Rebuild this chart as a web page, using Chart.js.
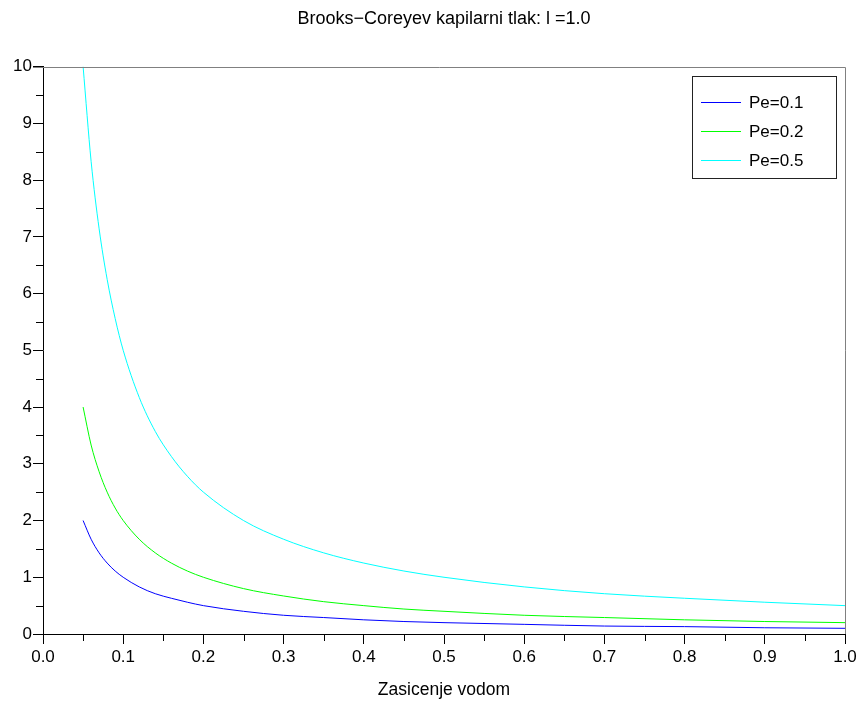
<!DOCTYPE html>
<html>
<head>
<meta charset="utf-8">
<title>Brooks-Corey</title>
<script src="https://cdn.jsdelivr.net/npm/chart.js@4.4.1/dist/chart.umd.min.js"></script>
<style>
  html, body { margin: 0; padding: 0; background: #fff; }
  #wrap { width: 861px; height: 701px; }
</style>
</head>
<body>
<div id="wrap"><canvas id="bcChart" width="861" height="701"></canvas></div>
<script>
// saturation values (x) and capillary pressure for each Pe
const satValues = [0.05, 0.06, 0.07, 0.08, 0.09, 0.10, 0.12, 0.14, 0.16, 0.18, 0.20,
                   0.25, 0.30, 0.35, 0.40, 0.45, 0.50, 0.60, 0.70, 0.80, 0.90, 1.00];
const pcPe01 = [2.00, 1.67, 1.43, 1.25, 1.11, 1.00, 0.83, 0.71, 0.63, 0.56, 0.50,
                0.40, 0.33, 0.29, 0.25, 0.22, 0.20, 0.17, 0.14, 0.13, 0.11, 0.10];
const pcPe02 = [4.00, 3.33, 2.86, 2.50, 2.22, 2.00, 1.67, 1.43, 1.25, 1.11, 1.00,
                0.80, 0.67, 0.57, 0.50, 0.44, 0.40, 0.33, 0.29, 0.25, 0.22, 0.20];
const pcPe05 = [10.0, 8.33, 7.14, 6.25, 5.56, 5.00, 4.17, 3.57, 3.13, 2.78, 2.50,
                2.00, 1.67, 1.43, 1.25, 1.11, 1.00, 0.83, 0.71, 0.63, 0.56, 0.50];
const seriesLabels = ["Pe=0.1", "Pe=0.2", "Pe=0.5"];
const seriesColors = ["#0000ff", "#00ff00", "#00ffff"];
const xMinorTicks = [0.05, 0.15, 0.25, 0.35, 0.45, 0.55, 0.65, 0.75, 0.85, 0.95];
const yMinorTicks = [0.5, 1.5, 2.5, 3.5, 4.5, 5.5, 6.5, 7.5, 8.5, 9.5];

const FONT = "'Liberation Sans', Arial, Helvetica, sans-serif";
Chart.defaults.color = "#000";
Chart.defaults.font.family = FONT;

function toPoints(ys) {
    return satValues.map((x, i) => ({ x: x, y: ys[i] }));
}

// minor ticks + grey top/right frame
const framePlugin = {
    id: "frame",
    afterDraw(chart) {
        const ctx = chart.ctx;
        const a = chart.chartArea;
        const xs = chart.scales.x, ys = chart.scales.y;
        ctx.save();
        ctx.strokeStyle = "#000";
        ctx.lineWidth = 1;
        ctx.beginPath();
        xMinorTicks.forEach(v => {
            const px = Math.round(xs.getPixelForValue(v)) + 0.5;
            ctx.moveTo(px, a.bottom);
            ctx.lineTo(px, a.bottom + 7);
        });
        yMinorTicks.forEach(v => {
            const py = Math.round(ys.getPixelForValue(v)) + 0.5;
            ctx.moveTo(a.left - 7, py);
            ctx.lineTo(a.left, py);
        });
        ctx.stroke();

        ctx.strokeStyle = "#808080";
        ctx.beginPath();
        const top = Math.round(a.top) + 0.5;
        const right = Math.round(a.right) + 0.5;
        ctx.moveTo(a.left - 10, top);
        ctx.lineTo(right, top);
        ctx.lineTo(right, a.bottom);
        ctx.stroke();
        ctx.restore();
    }
};

// boxed legend inside the plot, top right
const boxLegendPlugin = {
    id: "boxLegend",
    afterDraw(chart) {
        const ctx = chart.ctx;
        const bx = 692.5, by = 76.5, bw = 144, bh = 102;
        ctx.save();
        ctx.fillStyle = "#fff";
        ctx.fillRect(bx, by, bw, bh);
        ctx.strokeStyle = "#222";
        ctx.lineWidth = 1;
        ctx.strokeRect(bx, by, bw, bh);
        ctx.font = "17px " + FONT;
        ctx.textBaseline = "middle";
        ctx.textAlign = "left";
        chart.data.datasets.forEach((ds, i) => {
            const ly = Math.round(by + 25 + i * 29) + 0.5;
            ctx.strokeStyle = ds.borderColor;
            ctx.beginPath();
            ctx.moveTo(701, ly);
            ctx.lineTo(741, ly);
            ctx.stroke();
            ctx.fillStyle = "#000";
            ctx.fillText(ds.label, 749, ly + 1);
        });
        ctx.restore();
    }
};

const allSeries = [pcPe01, pcPe02, pcPe05];

new Chart(document.getElementById("bcChart").getContext("2d"), {
    type: "line",
    data: {
        datasets: allSeries.map((ys, i) => ({
            label: seriesLabels[i],
            data: toPoints(ys),
            borderColor: seriesColors[i],
            backgroundColor: seriesColors[i],
            borderWidth: 1,
            pointRadius: 0,
            fill: false,
            cubicInterpolationMode: "monotone",
        }))
    },
    options: {
        responsive: false,
        animation: false,
        layout: { padding: { left: 0, right: 16, top: 0, bottom: 0 } },
        plugins: {
            legend: { display: false },
            tooltip: { enabled: false },
            title: {
                display: true,
                text: "Brooks\u2212Coreyev kapilarni tlak: l =1.0",
                fullSize: false,
                color: "#000",
                font: { size: 18, weight: "normal", family: FONT },
                padding: { top: 8, bottom: 37 }
            }
        },
        scales: {
            x: {
                type: "linear",
                min: 0,
                max: 1,
                afterFit: s => { s.height = 67; },
                ticks: {
                    stepSize: 0.1,
                    padding: 3,
                    color: "#000",
                    font: { size: 17 },
                    maxRotation: 0,
                    callback: v => v.toFixed(1)
                },
                grid: { drawOnChartArea: false, tickLength: 10, tickColor: "#000" },
                border: { color: "#000", width: 1 },
                title: {
                    display: true,
                    text: "Zasicenje vodom",
                    color: "#000",
                    font: { size: 17.5 },
                    padding: { top: 0, bottom: 0 }
                }
            },
            y: {
                type: "linear",
                min: 0,
                max: 10,
                afterFit: s => { s.width = 43; },
                ticks: {
                    stepSize: 1,
                    padding: 1,
                    color: "#000",
                    font: { size: 17 }
                },
                grid: { drawOnChartArea: false, tickLength: 10, tickColor: "#000" },
                border: { color: "#000", width: 1 }
            }
        }
    },
    plugins: [framePlugin, boxLegendPlugin]
});
</script>
</body>
</html>
